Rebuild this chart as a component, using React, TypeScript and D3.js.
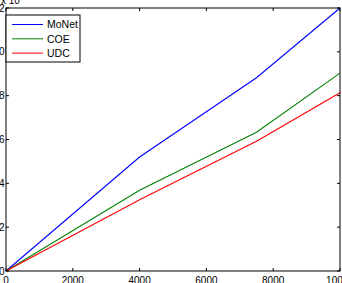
import React, { useEffect, useRef } from "react";
import * as d3 from "d3";

// values (y in units of 10^4)
const xValues = [0, 4000, 7500, 10000];
const monet = [0, 5.2, 8.82, 12];
const coe = [0, 3.68, 6.33, 9.03];
const udc = [0, 3.25, 5.92, 8.13];
const xTicks = [0, 2000, 4000, 6000, 8000, 10000];
const yTicks = [0, 2, 4, 6, 8, 10, 12];

const series = [
  { name: "MoNet", values: monet, color: "#0000ff" },
  { name: "COE", values: coe, color: "#008000" },
  { name: "UDC", values: udc, color: "#ff0000" },
];

const W = 342;
const H = 283;
const margin = { left: 6, right: 1, top: 8, bottom: 12 };

const App: React.FC = () => {
  const svgRef = useRef<SVGSVGElement>(null);

  useEffect(() => {
    if (!svgRef.current) return;
    const svg = d3.select(svgRef.current);
    svg.selectAll("*").remove();

    const x = d3
      .scaleLinear()
      .domain([0, 10000])
      .range([margin.left, W - margin.right - 1]);
    const y = d3
      .scaleLinear()
      .domain([0, 12])
      .range([H - margin.bottom, margin.top]);

    const x0 = x.range()[0];
    const x1 = x.range()[1];
    const y0 = y.range()[0];
    const y1 = y.range()[1];
    const font = "'Liberation Sans', Arial, sans-serif";

    svg.append("rect").attr("width", W).attr("height", H).attr("fill", "#fff");

    // series lines
    const line = d3
      .line<number>()
      .x((_, i) => x(xValues[i]))
      .y((d) => y(d));

    series.forEach((s) => {
      svg
        .append("path")
        .datum(s.values)
        .attr("d", line)
        .attr("fill", "none")
        .attr("stroke", s.color)
        .attr("stroke-width", 1.1);
    });

    // box
    svg
      .append("rect")
      .attr("x", x0)
      .attr("y", y1)
      .attr("width", x1 - x0)
      .attr("height", y0 - y1)
      .attr("fill", "none")
      .attr("stroke", "#000")
      .attr("stroke-width", 1);

    // x ticks (inside, bottom + top)
    xTicks.forEach((t) => {
      const px = x(t);
      svg.append("line").attr("x1", px).attr("x2", px).attr("y1", y0).attr("y2", y0 - 3).attr("stroke", "#000");
      svg.append("line").attr("x1", px).attr("x2", px).attr("y1", y1).attr("y2", y1 + 3).attr("stroke", "#000");
      svg
        .append("text")
        .attr("x", px)
        .attr("y", y0 + 12.5)
        .attr("text-anchor", "middle")
        .attr("font-family", font)
        .attr("font-size", 10)
        .text(t);
    });

    // y ticks
    yTicks.forEach((t) => {
      const py = y(t);
      svg.append("line").attr("x1", x0).attr("x2", x0 + 3).attr("y1", py).attr("y2", py).attr("stroke", "#000");
      svg.append("line").attr("x1", x1).attr("x2", x1 - 3).attr("y1", py).attr("y2", py).attr("stroke", "#000");
      svg
        .append("text")
        .attr("x", x0 - 1.5)
        .attr("y", py + 3.5)
        .attr("text-anchor", "end")
        .attr("font-family", font)
        .attr("font-size", 10)
        .text(t);
    });

    // exponent label
    svg
      .append("text")
      .attr("x", 1)
      .attr("y", 4)
      .attr("font-family", font)
      .attr("font-size", 10)
      .text("x 10");

    // legend
    const lg = svg.append("g").attr("transform", `translate(${x0},15)`);
    lg.append("rect")
      .attr("width", 74)
      .attr("height", 47)
      .attr("fill", "#fff")
      .attr("stroke", "#000")
      .attr("stroke-width", 1);
    series.forEach((s, i) => {
      const ly = 9.5 + i * 14.3;
      lg.append("line")
        .attr("x1", 6)
        .attr("x2", 37)
        .attr("y1", ly)
        .attr("y2", ly)
        .attr("stroke", s.color);
      lg.append("text")
        .attr("x", 41)
        .attr("y", ly + 3.8)
        .attr("font-family", font)
        .attr("font-size", 10.5)
        .text(s.name);
    });
  }, []);

  return (
    <svg
      ref={svgRef}
      width={W}
      height={H}
      style={{ position: "absolute", left: 0, top: 0 }}
    />
  );
};

export default App;
